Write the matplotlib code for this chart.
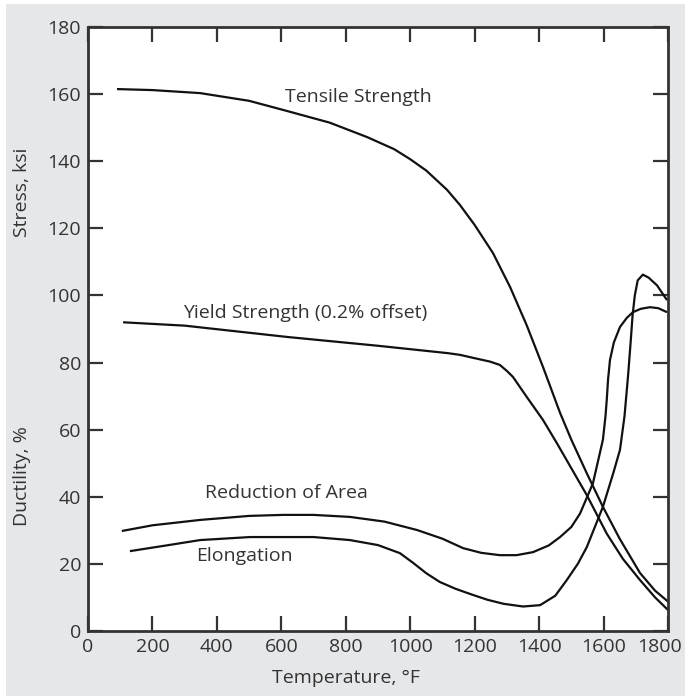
import matplotlib.pyplot as plt
from matplotlib.patches import Rectangle
from matplotlib.transforms import ScaledTranslation

# curves (temperature F, value)
tensile_t = [90, 200, 348, 500, 605, 750, 866, 950, 1000, 1050, 1114, 1154, 1200, 1257,
             1310, 1362, 1412, 1465, 1500, 1548, 1598, 1650, 1713, 1760, 1806]
tensile_v = [161.5, 161.2, 160.3, 158, 155.3, 151.5, 147.2, 143.6, 140.6, 137.2, 131.5, 127, 121,
             112.6, 102.5, 91, 78.7, 65, 57, 47, 37, 27.5, 17.3, 12, 8.3]

yield_t = [109, 300, 621, 900, 1117, 1154, 1200, 1247, 1278, 1300, 1319, 1362, 1412,
           1455, 1500, 1548, 1610, 1660, 1713, 1760, 1806]
yield_v = [92, 91, 87.6, 85, 82.8, 82.3, 81.3, 80.3, 79.3, 77.5, 75.7, 69.7, 62.9,
           56, 48.5, 40.5, 29, 21.5, 15.2, 10, 5.7]

roa_t = [105, 200, 348, 500, 605, 700, 813, 920, 1021, 1100, 1164, 1220, 1278, 1330,
         1381, 1430, 1465, 1500, 1527, 1567, 1598, 1606, 1610, 1614, 1620, 1632, 1651,
         1672, 1691, 1715, 1744, 1770, 1797]
roa_v = [29.8, 31.5, 33.1, 34.3, 34.6, 34.6, 34, 32.6, 30.1, 27.5, 24.7, 23.3, 22.6, 22.6,
         23.5, 25.5, 28, 31, 35, 44, 57, 64, 69, 75, 80.8, 86, 90.6,
         93.3, 95, 96, 96.5, 96.2, 95]

elong_t = [130, 250, 348, 503, 605, 700, 813, 900, 968, 1009, 1050, 1092, 1140, 1190,
           1240, 1290, 1350, 1403, 1450, 1486, 1520, 1548, 1598, 1630, 1651, 1665, 1676,
           1684, 1690, 1697, 1706, 1722, 1740, 1766, 1797]
elong_v = [23.8, 25.6, 27.1, 28, 28, 28, 27.1, 25.6, 23.2, 20.3, 17.2, 14.6, 12.6, 10.9,
           9.3, 8.1, 7.3, 7.7, 10.5, 15.2, 20, 25, 37, 47, 54, 64, 76,
           86, 94, 100, 104.5, 106.2, 105.3, 103, 98.6]

x_ticks = list(range(0, 1801, 200))
y_ticks = list(range(0, 181, 20))

txt = '#333333'
plt.rcParams['font.family'] = ['Open Sans', 'DejaVu Sans']

fig = plt.figure(figsize=(6.85, 6.96), dpi=100)
fig.patch.set_facecolor('white')
fig.patches.append(Rectangle((6 / 685, 0), 1, 1 - 4 / 696, transform=fig.transFigure,
                             facecolor='#e6e7e9', edgecolor='none', zorder=-10))

ax = fig.add_axes([88 / 685, 1 - 631 / 696, 580 / 685, 604 / 696])
ax.set_facecolor('white')

for t, v in [(tensile_t, tensile_v), (yield_t, yield_v), (roa_t, roa_v), (elong_t, elong_v)]:
    ax.plot(t, v, color='#111111', lw=1.6, solid_capstyle='butt', solid_joinstyle='round')

ax.set_xlim(0, 1800)
ax.set_ylim(0, 180)
ax.set_xticks(x_ticks)
ax.set_yticks(y_ticks)
ax.tick_params(direction='in', length=11, width=1.6, color='#333333',
               top=True, right=True, labelsize=14, labelcolor=txt, pad=5)
for s in ax.spines.values():
    s.set_linewidth(2)
    s.set_color('#333333')

# last x label sits a little left of its tick in the reference
lab = ax.get_xticklabels()[-1]
lab.set_transform(lab.get_transform() + ScaledTranslation(-8 / 100, 0, fig.dpi_scale_trans))

fs = 14
ax.text(838, 159, 'Tensile Strength', ha='center', va='center', fontsize=fs, color=txt)
ax.text(673, 94.8, 'Yield Strength (0.2% offset)', ha='center', va='center', fontsize=fs, color=txt)
ax.text(617, 41, 'Reduction of Area', ha='center', va='center', fontsize=fs, color=txt)
ax.text(484, 22.3, 'Elongation', ha='center', va='center', fontsize=fs, color=txt)

fig.text(346 / 685, 1 - 678 / 696, 'Temperature, \u00b0F', ha='center', va='center',
         fontsize=fs, color=txt)
fig.text(22 / 685, 1 - 192 / 696, 'Stress, ksi', rotation=90, ha='center', va='center',
         fontsize=fs, color=txt)
fig.text(22 / 685, 1 - 476 / 696, 'Ductility, %', rotation=90, ha='center', va='center',
         fontsize=fs, color=txt)

fig.savefig('out.png', dpi=100)
